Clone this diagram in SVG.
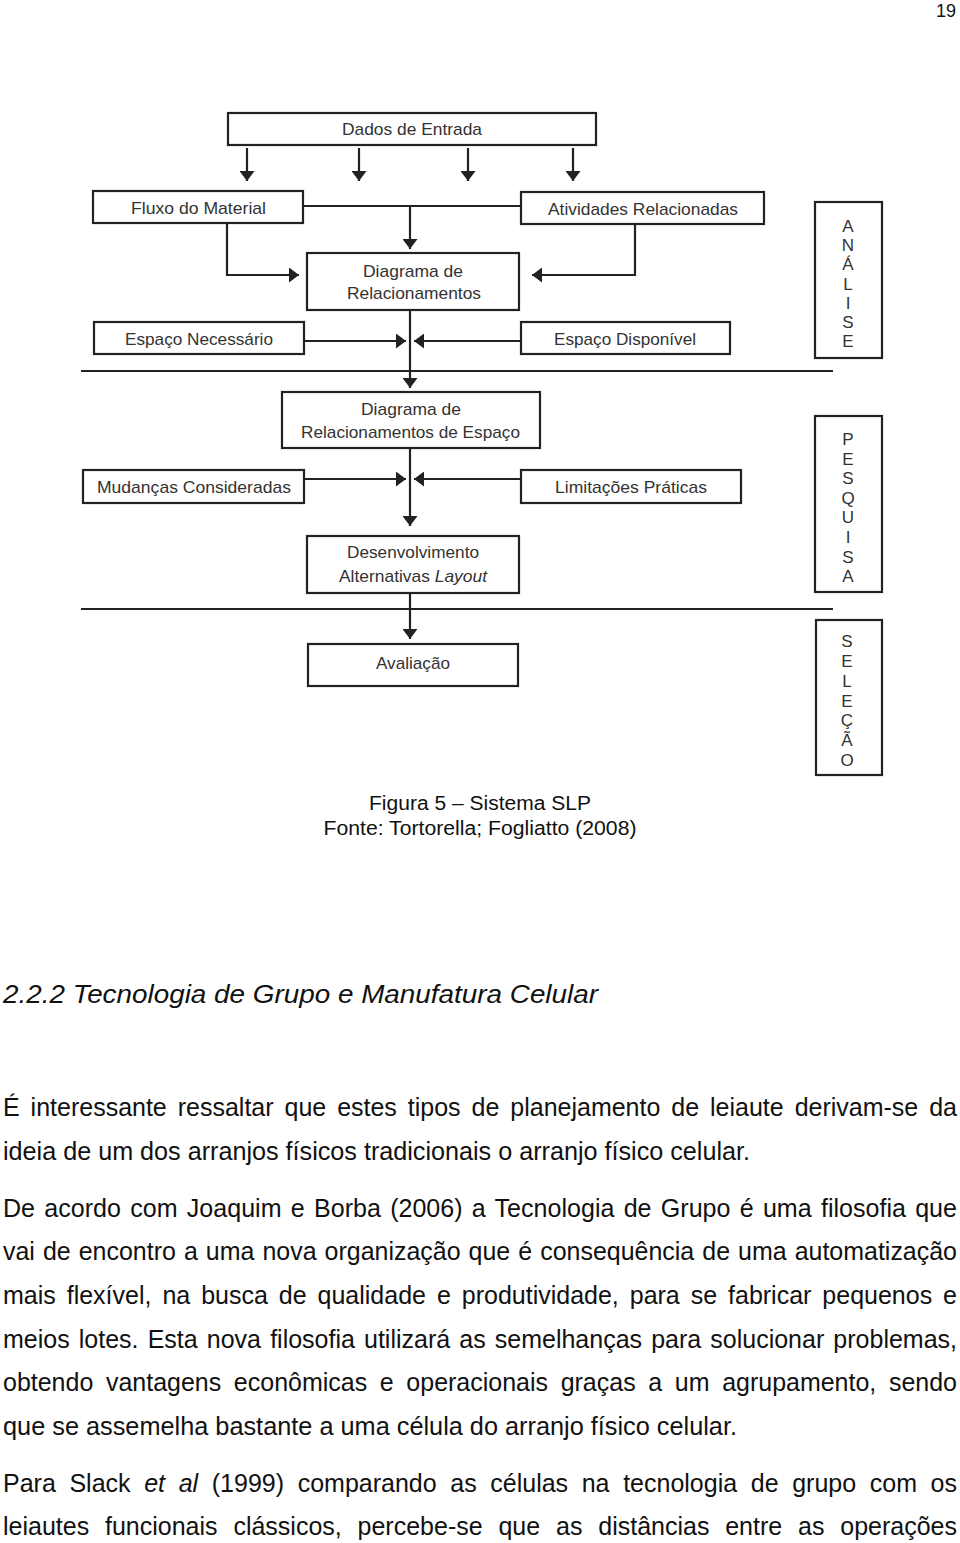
<svg xmlns="http://www.w3.org/2000/svg" width="960" height="1543" viewBox="0 0 960 1543">
<defs>
<style>
.box{fill:#fff;stroke:#222;stroke-width:2.2}
.lbl{font-family:"Liberation Sans",Arial,sans-serif;font-size:17px;fill:#333}
.side{font-family:"Liberation Sans",Arial,sans-serif;font-size:17px;fill:#333;text-anchor:middle}
.ln{fill:none;stroke:#222;stroke-width:2.2}
.arr{fill:none;stroke:#222;stroke-width:2.2;marker-end:url(#ah)}
.body{font-family:"Liberation Sans",Arial,sans-serif;font-size:25px;fill:#111}
.cap{font-family:"Liberation Sans",Arial,sans-serif;font-size:20px;fill:#111;text-anchor:middle}
</style>
<marker id="ah" viewBox="0 0 10 15" refX="10" refY="7.5" markerWidth="10" markerHeight="15" markerUnits="userSpaceOnUse" orient="auto">
<path d="M0,0 L10,7.5 L0,15 z" fill="#222"/>
</marker>
</defs>
<rect width="960" height="1543" fill="#fff"/>
<text x="956" y="17" text-anchor="end" font-family="Liberation Sans,Arial,sans-serif" font-size="18" fill="#111">19</text>

<g id="connectors">
<path class="arr" d="M247,148 V181"/>
<path class="arr" d="M359,148 V181"/>
<path class="arr" d="M468,148 V181"/>
<path class="arr" d="M573,148 V181"/>
<path class="ln" d="M303,206 H521"/>
<path class="arr" d="M410,206 V249"/>
<path class="arr" d="M227,223 V275 H299"/>
<path class="arr" d="M635,224 V275 H532"/>
<path class="arr" d="M410,310 V388"/>
<path class="arr" d="M304,341 H406"/>
<path class="arr" d="M521,341 H414"/>
<path class="ln" d="M81,371 H833"/>
<path class="arr" d="M410,448 V526"/>
<path class="arr" d="M304,479 H406"/>
<path class="arr" d="M521,479 H414"/>
<path class="arr" d="M410,593 V639"/>
<path class="ln" d="M81,609 H833"/>
</g>

<g id="dados">
<rect class="box" x="228" y="113" width="368" height="32"/>
<text class="lbl" x="342" y="135" textLength="140" lengthAdjust="spacingAndGlyphs">Dados de Entrada</text>
</g>
<g id="fluxo">
<rect class="box" x="93" y="191" width="210" height="32"/>
<text class="lbl" x="131" y="214" textLength="135" lengthAdjust="spacingAndGlyphs">Fluxo do Material</text>
</g>
<g id="atividades">
<rect class="box" x="521" y="192" width="243" height="32"/>
<text class="lbl" x="548" y="215" textLength="190" lengthAdjust="spacingAndGlyphs">Atividades Relacionadas</text>
</g>
<g id="diagrama-rel">
<rect class="box" x="307" y="253" width="212" height="57"/>
<text class="lbl" x="363" y="277" textLength="100" lengthAdjust="spacingAndGlyphs">Diagrama de</text>
<text class="lbl" x="347" y="299" textLength="134" lengthAdjust="spacingAndGlyphs">Relacionamentos</text>
</g>
<g id="espaco-necessario">
<rect class="box" x="94" y="322" width="210" height="32"/>
<text class="lbl" x="125" y="345" textLength="148" lengthAdjust="spacingAndGlyphs">Espaço Necessário</text>
</g>
<g id="espaco-disponivel">
<rect class="box" x="521" y="322" width="209" height="32"/>
<text class="lbl" x="554" y="345" textLength="142" lengthAdjust="spacingAndGlyphs">Espaço Disponível</text>
</g>
<g id="analise">
<rect class="box" x="815" y="202" width="67" height="156"/>
<text class="side" x="848" y="232">A</text>
<text class="side" x="848" y="251">N</text>
<text class="side" x="848" y="270">Á</text>
<text class="side" x="848" y="290">L</text>
<text class="side" x="848" y="309">I</text>
<text class="side" x="848" y="328">S</text>
<text class="side" x="848" y="347">E</text>
</g>
<g id="diagrama-esp">
<rect class="box" x="282" y="392" width="258" height="56"/>
<text class="lbl" x="361" y="415" textLength="100" lengthAdjust="spacingAndGlyphs">Diagrama de</text>
<text class="lbl" x="301" y="438" textLength="219" lengthAdjust="spacingAndGlyphs">Relacionamentos de Espaço</text>
</g>
<g id="mudancas">
<rect class="box" x="83" y="470" width="221" height="33"/>
<text class="lbl" x="97" y="493" textLength="194" lengthAdjust="spacingAndGlyphs">Mudanças Consideradas</text>
</g>
<g id="limitacoes">
<rect class="box" x="521" y="470" width="220" height="33"/>
<text class="lbl" x="555" y="493" textLength="152" lengthAdjust="spacingAndGlyphs">Limitações Práticas</text>
</g>
<g id="pesquisa">
<rect class="box" x="815" y="416" width="67" height="176"/>
<text class="side" x="848" y="445">P</text>
<text class="side" x="848" y="465">E</text>
<text class="side" x="848" y="484">S</text>
<text class="side" x="848" y="504">Q</text>
<text class="side" x="848" y="523">U</text>
<text class="side" x="848" y="543">I</text>
<text class="side" x="848" y="563">S</text>
<text class="side" x="848" y="582">A</text>
</g>
<g id="desenvolvimento">
<rect class="box" x="307" y="536" width="212" height="57"/>
<text class="lbl" x="347" y="558" textLength="132" lengthAdjust="spacingAndGlyphs">Desenvolvimento</text>
<text class="lbl" x="339" y="582" textLength="148" lengthAdjust="spacingAndGlyphs">Alternativas <tspan font-style="italic">Layout</tspan></text>
</g>
<g id="avaliacao">
<rect class="box" x="308" y="644" width="210" height="42"/>
<text class="lbl" x="376" y="669" textLength="74" lengthAdjust="spacingAndGlyphs">Avaliação</text>
</g>
<g id="selecao">
<rect class="box" x="816" y="620" width="66" height="155"/>
<text class="side" x="847" y="647">S</text>
<text class="side" x="847" y="667">E</text>
<text class="side" x="847" y="687">L</text>
<text class="side" x="847" y="707">E</text>
<text class="side" x="847" y="726">Ç</text>
<text class="side" x="847" y="746">Ã</text>
<text class="side" x="847" y="766">O</text>
</g>

<g id="caption">
<text class="cap" x="480" y="810" textLength="222" lengthAdjust="spacingAndGlyphs">Figura 5 – Sistema SLP</text>
<text class="cap" x="480" y="835" textLength="313" lengthAdjust="spacingAndGlyphs">Fonte: Tortorella; Fogliatto (2008)</text>
</g>

<g id="text">
<text x="3" y="1003" font-family="Liberation Sans,Arial,sans-serif" font-size="25" font-style="italic" fill="#111" textLength="595" lengthAdjust="spacingAndGlyphs">2.2.2  Tecnologia de Grupo e Manufatura Celular</text>
<text class="body" x="3" y="1116" word-spacing="4" textLength="954" lengthAdjust="spacingAndGlyphs">É interessante ressaltar que estes tipos de planejamento de leiaute derivam-se da</text>
<text class="body" x="3" y="1160" textLength="747" lengthAdjust="spacingAndGlyphs">ideia de um dos arranjos físicos tradicionais o arranjo físico celular.</text>
<text class="body" x="3" y="1217" word-spacing="2.3" textLength="954" lengthAdjust="spacingAndGlyphs">De acordo com Joaquim e Borba (2006) a Tecnologia de Grupo é uma filosofia que</text>
<text class="body" x="3" y="1260" word-spacing="1.1" textLength="954" lengthAdjust="spacingAndGlyphs">vai de encontro a uma nova organização que é consequência de uma automatização</text>
<text class="body" x="3" y="1304" word-spacing="4" textLength="954" lengthAdjust="spacingAndGlyphs">mais flexível, na busca de qualidade e produtividade, para se fabricar pequenos e</text>
<text class="body" x="3" y="1348" word-spacing="2.2" textLength="954" lengthAdjust="spacingAndGlyphs">meios lotes. Esta nova filosofia utilizará as semelhanças para solucionar problemas,</text>
<text class="body" x="3" y="1391" word-spacing="5.7" textLength="954" lengthAdjust="spacingAndGlyphs">obtendo vantagens econômicas e operacionais graças a um agrupamento, sendo</text>
<text class="body" x="3" y="1435" textLength="734" lengthAdjust="spacingAndGlyphs">que se assemelha bastante a uma célula do arranjo físico celular.</text>
<text class="body" x="3" y="1492" word-spacing="6.7" textLength="954" lengthAdjust="spacingAndGlyphs">Para Slack <tspan font-style="italic">et al</tspan> (1999) comparando as células na tecnologia de grupo com os</text>
<text class="body" x="3" y="1535" word-spacing="8.9" textLength="954" lengthAdjust="spacingAndGlyphs">leiautes funcionais clássicos, percebe-se que as distâncias entre as operações</text>
</g>
</svg>
